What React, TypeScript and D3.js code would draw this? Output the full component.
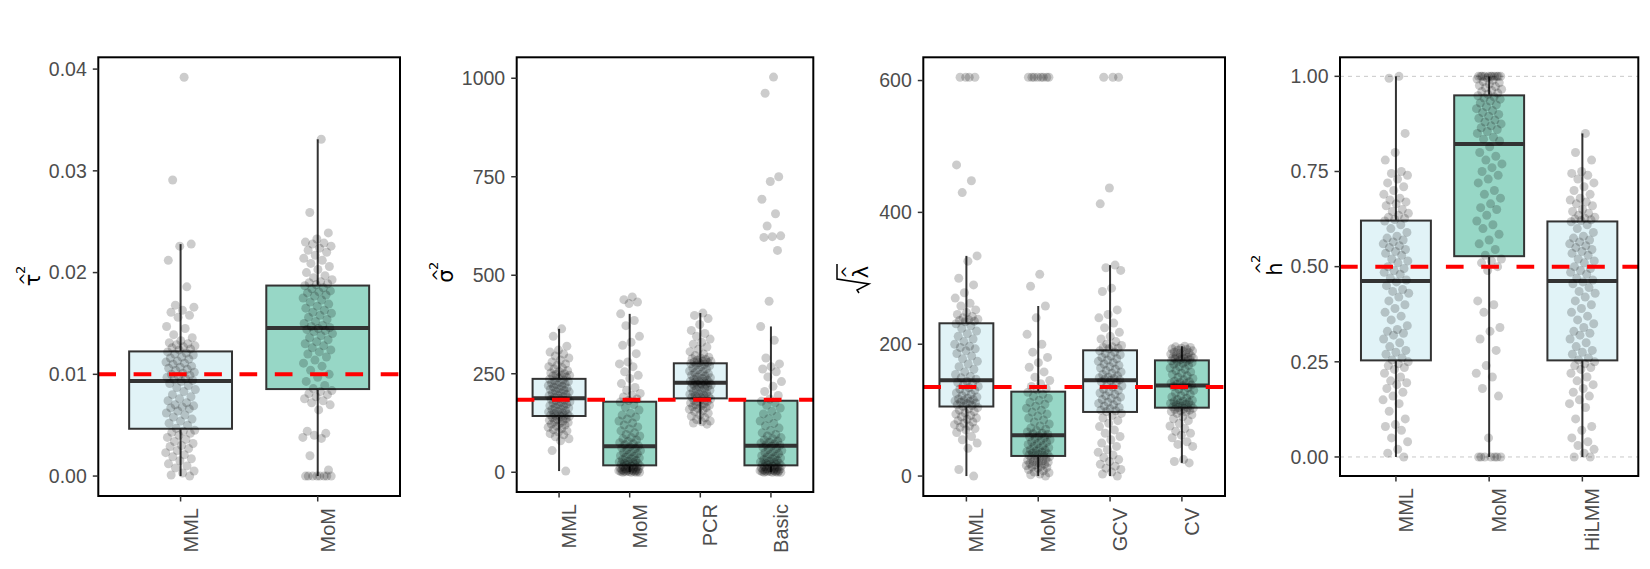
import React from 'react';
import * as d3 from 'd3';

// ---- τ̂² : residual-variance estimates ----
const tauMethods = ['MML', 'MoM'];
const tauMML = [
  0.0392, 0.0291, 0.0228, 0.0226, 0.0212, 0.0186, 0.0168, 0.0166, 0.0163, 0.0161, 0.0158, 0.0156, 0.0147, 0.0145, 0.0139, 0.0136, 0.0133, 0.0131, 0.013, 0.0129, 0.0128, 0.0127, 0.0126, 0.0125, 0.0124,
  0.0122, 0.0121, 0.012, 0.0119, 0.0117, 0.0116, 0.0115, 0.0113, 0.0112, 0.0111, 0.011, 0.0108, 0.0107, 0.0106, 0.0105, 0.0104, 0.0102, 0.0101, 0.01, 0.0099, 0.0098, 0.0097, 0.0096, 0.0095, 0.0094,
  0.0093, 0.0091, 0.0089, 0.0087, 0.0085, 0.0083, 0.008, 0.0078, 0.0076, 0.0074, 0.0072, 0.007, 0.0069, 0.0068, 0.0067, 0.0066, 0.0064, 0.0062, 0.006, 0.0058, 0.0056, 0.0054, 0.0052, 0.005, 0.0047,
  0.0045, 0.0044, 0.0043, 0.0042, 0.004, 0.0038, 0.0036, 0.0034, 0.0032, 0.003, 0.0029, 0.0027, 0.0025, 0.0023, 0.0021, 0.0019, 0.0017, 0.0015, 0.0012, 0.001, 0.0008, 0.0005, 0.0003, 0.0001, 0.0,
];
const tauMoM = [
  0.0331, 0.0259, 0.0239, 0.0233, 0.023, 0.0229, 0.0228, 0.0226, 0.0224, 0.0222, 0.022, 0.0217, 0.0214, 0.0212, 0.0209, 0.0206, 0.0203, 0.02, 0.0197, 0.0195, 0.0193, 0.0191, 0.019, 0.0189, 0.0188,
  0.0187, 0.0185, 0.0184, 0.0182, 0.0181, 0.018, 0.0178, 0.0177, 0.0175, 0.0173, 0.0171, 0.0169, 0.0167, 0.0165, 0.0163, 0.0161, 0.016, 0.0158, 0.0156, 0.0154, 0.0152, 0.015, 0.0148, 0.0147, 0.0146,
  0.0145, 0.0144, 0.0143, 0.0142, 0.014, 0.0138, 0.0136, 0.0134, 0.0132, 0.013, 0.0128, 0.0126, 0.0124, 0.0122, 0.012, 0.0117, 0.0114, 0.0111, 0.0108, 0.0104, 0.01, 0.0097, 0.0093, 0.0089, 0.0086,
  0.0084, 0.0083, 0.0081, 0.008, 0.0078, 0.0076, 0.0074, 0.0072, 0.007, 0.0065, 0.0044, 0.0042, 0.004, 0.0038, 0.0037, 0.002, 0.0006, 0, 0, 0, 0, 0, 0, 0, 0,
];
const tauTicks = [0, 0.01, 0.02, 0.03, 0.04];
const tauTruth = 0.01;

// ---- σ̂² : error-variance estimates ----
const sigmaMethods = ['MML', 'MoM', 'PCR', 'Basic'];
const sigmaMML = [
  364, 345, 320, 310, 305, 300, 295, 290, 285, 280, 275, 272, 268, 265, 262, 258, 255, 252, 250, 248, 246, 245, 244, 242, 240,
  236, 234, 232, 230, 228, 226, 224, 222, 220, 218, 216, 214, 212, 210, 208, 206, 204, 202, 200, 198, 196, 194, 192, 190, 189,
  187, 185, 183, 181, 179, 177, 175, 173, 171, 169, 167, 165, 163, 161, 159, 157, 155, 153, 151, 149, 147, 146, 145, 144, 143,
  142, 140, 138, 136, 134, 132, 130, 128, 126, 124, 122, 120, 117, 114, 111, 108, 105, 102, 98, 95, 90, 85, 80, 55, 3,
];
const sigmaMoM = [
  445, 438, 432, 428, 402, 385, 372, 345, 330, 322, 301, 280, 275, 268, 255, 246, 238, 225, 215, 208, 200, 195, 191, 186, 182,
  178, 172, 165, 158, 150, 145, 140, 135, 130, 125, 120, 115, 110, 105, 100, 96, 92, 88, 85, 82, 78, 75, 72, 70, 67,
  65, 62, 60, 57, 55, 52, 50, 47, 45, 42, 40, 38, 36, 34, 32, 30, 28, 26, 25, 23, 22, 21, 20, 19, 18,
  16, 15, 14, 13, 12, 11, 10, 9, 8, 7, 6, 5, 5, 4, 4, 3, 3, 2, 2, 1, 1, 0, 0, 0, 0,
];
const sigmaPCR = [
  404, 398, 390, 375, 360, 352, 345, 338, 330, 325, 318, 312, 306, 300, 296, 292, 290, 288, 286, 284, 282, 281, 280, 279, 278,
  276, 274, 272, 270, 268, 265, 262, 260, 257, 255, 252, 250, 248, 246, 244, 242, 240, 238, 236, 234, 232, 231, 230, 229, 228,
  226, 225, 224, 223, 222, 221, 220, 218, 216, 214, 212, 210, 208, 206, 204, 202, 200, 198, 196, 194, 192, 191, 190, 189, 188,
  186, 184, 182, 180, 178, 176, 174, 172, 170, 168, 166, 164, 162, 160, 157, 154, 150, 146, 142, 138, 134, 130, 128, 125, 122,
];
const sigmaBasic = [
  1003, 962, 750, 738, 693, 656, 625, 600, 598, 596, 563, 434, 370, 335, 290, 275, 268, 262, 255, 242, 230, 218, 205, 195, 186,
  180, 176, 170, 163, 155, 148, 142, 136, 130, 124, 118, 112, 106, 100, 96, 92, 88, 85, 82, 79, 76, 74, 72, 70, 68,
  66, 63, 60, 58, 55, 52, 50, 47, 45, 42, 40, 38, 36, 34, 32, 30, 28, 26, 25, 23, 22, 21, 20, 19, 18,
  16, 15, 14, 13, 12, 11, 10, 9, 8, 7, 6, 5, 5, 4, 4, 3, 3, 2, 2, 1, 1, 0, 0, 0, 0,
];
const sigmaTicks = [0, 250, 500, 750, 1000];
const sigmaTruth = 184;

// ---- √λ̂ : penalty estimates ----
const lambdaMethods = ['MML', 'MoM', 'GCV', 'CV'];
const lambdaMML = [
  605, 605, 605, 605, 472, 448, 430, 334, 326, 300, 290, 278, 270, 262, 258, 252, 248, 245, 242, 240, 238, 237, 236, 235, 234,
  231, 228, 224, 220, 216, 212, 208, 204, 200, 197, 195, 193, 190, 186, 182, 178, 174, 170, 166, 162, 158, 154, 151, 149, 147,
  144, 142, 140, 138, 136, 134, 132, 130, 128, 126, 124, 122, 120, 118, 117, 116, 115, 114, 113, 112, 111, 110, 108, 107, 106,
  104, 102, 100, 98, 96, 94, 92, 90, 88, 86, 84, 82, 80, 78, 76, 74, 72, 70, 66, 60, 55, 50, 42, 10, 0,
];
const lambdaMoM = [
  605, 605, 605, 605, 605, 605, 605, 605, 306, 288, 258, 240, 215, 200, 188, 180, 172, 165, 158, 150, 145, 140, 136, 133, 131,
  127, 124, 121, 118, 115, 112, 109, 106, 103, 100, 97, 94, 91, 88, 85, 82, 79, 76, 73, 71, 69, 67, 65, 64, 63,
  61, 60, 58, 57, 55, 54, 52, 51, 49, 48, 46, 45, 43, 42, 40, 39, 38, 37, 36, 35, 34, 33, 32, 31, 31,
  29, 28, 27, 26, 25, 24, 23, 22, 21, 20, 19, 18, 17, 16, 15, 14, 13, 12, 10, 8, 6, 5, 3, 2, 0,
];
const lambdaGCV = [
  605, 605, 605, 437, 413, 320, 316, 312, 285, 280, 252, 245, 240, 232, 225, 218, 212, 208, 204, 200, 198, 196, 195, 194, 193,
  190, 188, 186, 184, 182, 180, 178, 176, 174, 172, 170, 168, 166, 164, 162, 160, 158, 156, 154, 152, 150, 149, 148, 147, 146,
  145, 143, 141, 139, 137, 135, 132, 130, 128, 126, 124, 122, 120, 118, 116, 114, 112, 110, 108, 106, 104, 102, 100, 99, 98,
  95, 92, 88, 84, 80, 75, 70, 65, 60, 55, 50, 45, 40, 36, 32, 28, 25, 22, 18, 15, 12, 10, 6, 3, 0,
];
const lambdaCV = [
  197, 196, 195, 194, 193, 192, 191, 190, 189, 188, 187, 186, 185, 184, 183, 182, 181, 180, 180, 179, 179, 178, 178, 177, 177,
  175, 174, 173, 172, 171, 170, 168, 166, 164, 162, 160, 158, 156, 154, 152, 150, 148, 146, 144, 143, 142, 141, 140, 139, 138,
  137, 136, 134, 132, 130, 128, 126, 124, 122, 120, 118, 116, 115, 114, 113, 112, 111, 110, 109, 108, 107, 106, 105, 104, 104,
  103, 102, 101, 100, 99, 98, 97, 95, 93, 90, 87, 84, 80, 76, 72, 68, 65, 62, 58, 52, 48, 45, 25, 22, 20,
];
const lambdaTicks = [0, 200, 400, 600];
const lambdaTruth = 135;

// ---- ĥ² : heritability estimates ----
const hMethods = ['MML', 'MoM', 'HiLMM'];
const hMML = [
  1.0, 0.995, 0.85, 0.8, 0.78, 0.75, 0.745, 0.74, 0.73, 0.72, 0.71, 0.7, 0.69, 0.68, 0.675, 0.67, 0.665, 0.66, 0.65, 0.645, 0.64, 0.635, 0.63, 0.627, 0.624,
  0.62, 0.61, 0.6, 0.59, 0.58, 0.575, 0.57, 0.565, 0.56, 0.555, 0.55, 0.545, 0.54, 0.535, 0.53, 0.52, 0.515, 0.51, 0.5, 0.495, 0.49, 0.485, 0.48, 0.47, 0.465,
  0.46, 0.45, 0.44, 0.435, 0.43, 0.42, 0.41, 0.4, 0.39, 0.38, 0.37, 0.36, 0.345, 0.335, 0.33, 0.325, 0.32, 0.31, 0.3, 0.29, 0.28, 0.275, 0.27, 0.26, 0.255,
  0.25, 0.245, 0.24, 0.235, 0.23, 0.22, 0.21, 0.2, 0.195, 0.19, 0.18, 0.17, 0.16, 0.15, 0.14, 0.12, 0.1, 0.085, 0.08, 0.07, 0.05, 0.04, 0.02, 0.01, 0.0,
];
const hMoM = [
  1, 1, 1, 1, 1, 1, 1, 1, 1, 1, 1, 0.996, 0.993, 0.99, 0.986, 0.983, 0.98, 0.976, 0.973, 0.97, 0.966, 0.963, 0.96, 0.956, 0.953,
  0.949, 0.946, 0.943, 0.94, 0.935, 0.93, 0.925, 0.92, 0.915, 0.91, 0.905, 0.9, 0.895, 0.89, 0.885, 0.88, 0.875, 0.87, 0.865, 0.86, 0.855, 0.85, 0.84, 0.835, 0.83,
  0.815, 0.8, 0.79, 0.78, 0.77, 0.76, 0.75, 0.74, 0.73, 0.72, 0.7, 0.69, 0.68, 0.665, 0.655, 0.65, 0.635, 0.62, 0.61, 0.6, 0.585, 0.57, 0.56, 0.545, 0.53,
  0.52, 0.515, 0.51, 0.5, 0.49, 0.41, 0.4, 0.38, 0.34, 0.33, 0.31, 0.28, 0.24, 0.22, 0.21, 0.18, 0.16, 0.05, 0, 0, 0, 0, 0, 0, 0,
];
const hHiLMM = [
  0.85, 0.8, 0.78, 0.75, 0.745, 0.74, 0.73, 0.72, 0.71, 0.7, 0.69, 0.68, 0.675, 0.67, 0.665, 0.66, 0.65, 0.645, 0.64, 0.635, 0.63, 0.627, 0.625, 0.623, 0.621,
  0.618, 0.61, 0.6, 0.59, 0.58, 0.575, 0.57, 0.565, 0.56, 0.555, 0.55, 0.545, 0.54, 0.535, 0.53, 0.52, 0.515, 0.51, 0.5, 0.495, 0.49, 0.485, 0.48, 0.47, 0.465,
  0.46, 0.455, 0.445, 0.435, 0.43, 0.42, 0.41, 0.4, 0.39, 0.38, 0.37, 0.36, 0.35, 0.34, 0.33, 0.325, 0.32, 0.31, 0.3, 0.29, 0.28, 0.275, 0.27, 0.26, 0.255,
  0.25, 0.245, 0.24, 0.235, 0.23, 0.22, 0.21, 0.2, 0.19, 0.18, 0.17, 0.16, 0.15, 0.14, 0.13, 0.1, 0.08, 0.07, 0.05, 0.04, 0.03, 0.02, 0.01, 0.0, 0.0,
];
const hTicks = [0, 0.25, 0.5, 0.75, 1];
const hTruth = 0.5;
const hGrid = [0, 1];

const LIGHT = '#e1f3f7';
const TEAL = '#97d7c6';
const FONT = '"Liberation Sans", Arial, Helvetica, sans-serif';

type Frame = { left: number; right: number; top: number; bottom: number };
type TitleKind = 'tau' | 'sigma' | 'lambda' | 'h';
type PanelSpec = {
  methods: string[];
  values: number[][];
  ticks: number[];
  fmt: (v: number) => string;
  truth: number;
  frame: Frame;
  jitter: number;
  title: TitleKind;
  titleX: number;
  titleY: number;
  grid?: number[];
};

const fmt2 = d3.format('.2f');
const fmt0 = d3.format('d');

const panels: PanelSpec[] = [
  { methods: tauMethods, values: [tauMML, tauMoM], ticks: tauTicks, fmt: fmt2, truth: tauTruth,
    frame: { left: 98.3, right: 400, top: 57.3, bottom: 496 }, jitter: 15, title: 'tau', titleX: 40, titleY: 280 },
  { methods: sigmaMethods, values: [sigmaMML, sigmaMoM, sigmaPCR, sigmaBasic], ticks: sigmaTicks, fmt: fmt0, truth: sigmaTruth,
    frame: { left: 516.7, right: 813.3, top: 57.3, bottom: 492 }, jitter: 11, title: 'sigma', titleX: 453, titleY: 276 },
  { methods: lambdaMethods, values: [lambdaMML, lambdaMoM, lambdaGCV, lambdaCV], ticks: lambdaTicks, fmt: fmt0, truth: lambdaTruth,
    frame: { left: 923.3, right: 1225, top: 57.3, bottom: 496 }, jitter: 12, title: 'lambda', titleX: 868, titleY: 278 },
  { methods: hMethods, values: [hMML, hMoM, hHiLMM], ticks: hTicks, fmt: fmt2, truth: hTruth,
    frame: { left: 1340, right: 1638.3, top: 57.3, bottom: 476 }, jitter: 13, title: 'h', titleX: 1282, titleY: 269, grid: hGrid },
];

function boxStats(vals: number[]) {
  const s = vals.slice().sort(d3.ascending);
  const q1 = d3.quantileSorted(s, 0.25) as number;
  const med = d3.quantileSorted(s, 0.5) as number;
  const q3 = d3.quantileSorted(s, 0.75) as number;
  const iqr = q3 - q1;
  const lo = d3.min(s.filter((v) => v >= q1 - 1.5 * iqr)) as number;
  const hi = d3.max(s.filter((v) => v <= q3 + 1.5 * iqr)) as number;
  return { q1, med, q3, lo, hi };
}

// low-discrepancy horizontal spread for the jittered points
const spread = (i: number) => (((i + 1) * 0.6180339887) % 1) * 2 - 1;

function AxisTitle({ kind, x, y }: { kind: TitleKind; x: number; y: number }) {
  const t = `translate(${x},${y}) rotate(-90)`;
  if (kind === 'lambda') {
    return (
      <g transform={t} fill="#000" fontFamily={'"DejaVu Sans", sans-serif'}>
        <path d="M-15,-9 L-12,-11 L-6,1 L-1,-31 L14,-31" fill="none" stroke="#000" strokeWidth={1.5} />
        <text x={6} y={0} fontSize={21} textAnchor="middle">λ</text>
        <text x={6} y={-15} fontSize={16} textAnchor="middle">^</text>
      </g>
    );
  }
  const glyph = kind === 'tau' ? 'τ' : kind === 'sigma' ? 'σ' : 'h';
  const hatY = kind === 'h' ? -15 : -9;
  const supY = kind === 'h' ? -22 : -15;
  return (
    <g transform={t} fill="#000" fontFamily={'"DejaVu Sans", sans-serif'}>
      <text x={0} y={0} fontSize={21} textAnchor="middle">{glyph}</text>
      <text x={1} y={hatY} fontSize={16} textAnchor="middle">^</text>
      <text x={6} y={supY} fontSize={13}>2</text>
    </g>
  );
}

function Panel({ p }: { p: PanelSpec }) {
  const { frame } = p;
  const all = p.values.flat();
  const [mn, mx] = d3.extent(all) as [number, number];
  const pad = (mx - mn) * 0.05;
  const y = d3.scaleLinear().domain([mn - pad, mx + pad]).range([frame.bottom, frame.top]);
  const x = d3.scalePoint<string>().domain(p.methods).range([frame.left, frame.right]).padding(0.6);
  const step = x.step();
  const bw = step * 0.75;

  return (
    <g>
      {p.grid?.map((g) => (
        <line key={`g${g}`} x1={frame.left} x2={frame.right} y1={y(g)} y2={y(g)}
          stroke="#c8c8c8" strokeWidth={1} strokeDasharray="4 4" />
      ))}
      {p.methods.map((m, i) => {
        const st = boxStats(p.values[i]);
        const cx = x(m) as number;
        return (
          <g key={`b${m}`}>
            <line x1={cx} x2={cx} y1={y(st.hi)} y2={y(st.q3)} stroke="#333" strokeWidth={2} />
            <line x1={cx} x2={cx} y1={y(st.q1)} y2={y(st.lo)} stroke="#333" strokeWidth={2} />
            <rect x={cx - bw / 2} y={y(st.q3)} width={bw} height={y(st.q1) - y(st.q3)}
              fill={i % 2 === 0 ? LIGHT : TEAL} stroke="#333" strokeWidth={2} />
            <line x1={cx - bw / 2} x2={cx + bw / 2} y1={y(st.med)} y2={y(st.med)} stroke="#333" strokeWidth={4} />
          </g>
        );
      })}
      {p.methods.map((m, i) => {
        const cx = x(m) as number;
        return (
          <g key={`p${m}`}>
            {p.values[i].map((v, k) => (
              <circle key={k} cx={cx + spread(k) * p.jitter} cy={y(v)} r={4.5} fill="#000" fillOpacity={0.2} />
            ))}
          </g>
        );
      })}
      <line x1={frame.left} x2={frame.right} y1={y(p.truth)} y2={y(p.truth)}
        stroke="#ff0000" strokeWidth={4} strokeDasharray="17.7 17.6" />
      <rect x={frame.left} y={frame.top} width={frame.right - frame.left} height={frame.bottom - frame.top}
        fill="none" stroke="#000" strokeWidth={2} />
      {p.ticks.map((t) => (
        <g key={`t${t}`}>
          <line x1={frame.left - 5.5} x2={frame.left} y1={y(t)} y2={y(t)} stroke="#333" strokeWidth={1.5} />
          <text x={frame.left - 11.5} y={y(t)} dy="0.35em" textAnchor="end" fontSize={19.5}
            fill="#4d4d4d" fontFamily={FONT}>{p.fmt(t)}</text>
        </g>
      ))}
      {p.methods.map((m) => {
        const cx = x(m) as number;
        return (
          <g key={`x${m}`}>
            <line x1={cx} x2={cx} y1={frame.bottom} y2={frame.bottom + 5.5} stroke="#333" strokeWidth={1.5} />
            <text transform={`translate(${cx + 17},${frame.bottom + 12}) rotate(-90)`} textAnchor="end"
              fontSize={20} fill="#4d4d4d" fontFamily={FONT}>{m}</text>
          </g>
        );
      })}
      <AxisTitle kind={p.title} x={p.titleX} y={p.titleY} />
    </g>
  );
}

export default function App() {
  return (
    <svg width={1650} height={569} viewBox="0 0 1650 569"
      style={{ position: 'absolute', left: 0, top: 0, background: '#fff' }}>
      <rect width={1650} height={569} fill="#fff" />
      {panels.map((p, i) => <Panel key={i} p={p} />)}
    </svg>
  );
}
